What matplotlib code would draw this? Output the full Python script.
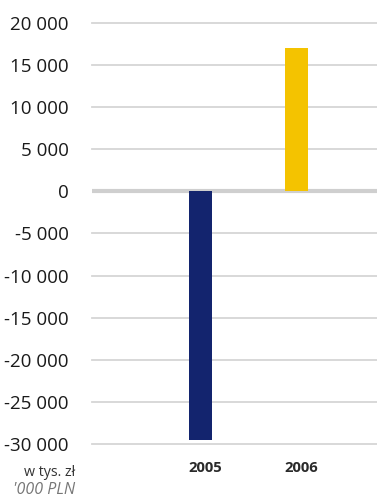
import matplotlib
matplotlib.use("Agg")
import matplotlib.pyplot as plt
from matplotlib.ticker import FuncFormatter

plt.rcParams['font.family'] = ['Open Sans', 'DejaVu Sans']

years = ['2005', '2006']
values = [-29500, 17000]
colors = ['#13246e', '#f4c300']
yticks = list(range(-30000, 20001, 5000))

fig = plt.figure(figsize=(3.77, 4.97), dpi=100)
ax = fig.add_axes([92 / 377, 53 / 497, 285 / 377, 421 / 497])

x = list(range(len(years)))
ax.bar(x, values, width=0.24, color=colors, zorder=3)

for t in yticks:
    if t == 0:
        ax.axhline(t, color='#cfcfcf', lw=3, zorder=2)
    else:
        ax.axhline(t, color='#d6d6d6', lw=1.3, zorder=1, clip_on=False)

ax.set_ylim(-30000, 20000)
ax.set_xlim(-1.13, 1.84)
ax.set_yticks(yticks)
ax.yaxis.set_major_formatter(FuncFormatter(lambda v, p: f"{int(v):,}".replace(',', ' ')))
# year labels sit a little right of the bar centres
ax.set_xticks([i + 0.055 for i in x])
ax.set_xticklabels(years, fontsize=10.7, fontweight='bold', color='#2a2a2a')
ax.tick_params(axis='y', length=0, pad=17, labelsize=13.5, labelcolor='#1a1a1a')
ax.tick_params(axis='x', length=0, pad=12)
for s in ax.spines.values():
    s.set_visible(False)

fig.text(75 / 377, 1 - 472 / 497, 'w tys. zł', ha='right', va='center',
         fontsize=10.3, color='#333333')
fig.text(75 / 377, 1 - 490 / 497, "'000 PLN", ha='right', va='center',
         fontsize=11.5, style='italic', color='#777777')

fig.savefig('out.png', dpi=100)
